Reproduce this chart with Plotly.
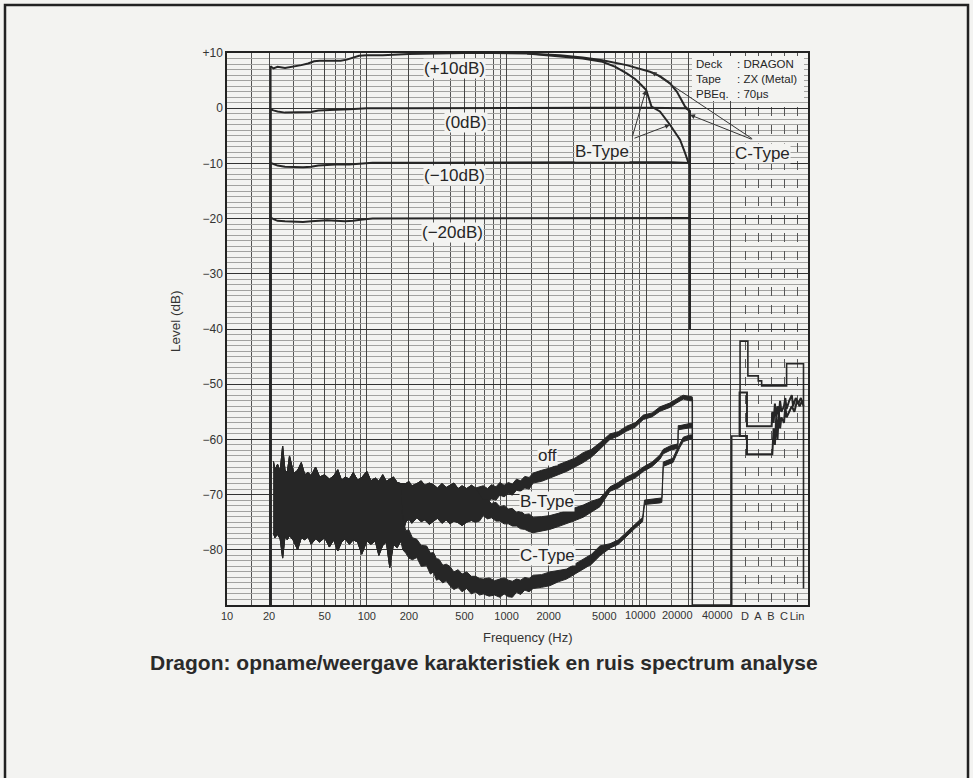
import math
import plotly.graph_objects as go

# ---------------- data ----------------
# record/playback response curves (frequency in Hz, level in dB)
r_p10_f = [20.5, 20.5, 21.5, 23, 26, 30, 34, 38, 42, 46, 55, 65, 72, 80, 88, 100, 130, 200, 300, 500, 800, 1000, 1400]
r_p10_l = [-90, 7.6, 7.2, 7.5, 7.3, 7.5, 7.8, 8.1, 8.5, 8.6, 8.6, 8.6, 8.8, 9.2, 9.5, 9.6, 9.6, 9.8, 9.9, 10.0, 10.0, 10.0, 9.9]
r_p10c_f = [1400, 2400, 3500, 4850, 7230, 10610, 12500, 14750, 16500, 17500, 18900, 20500, 20500]
r_p10c_l = [9.9, 9.6, 9.2, 8.7, 7.8, 6.6, 5.8, 4.5, 3.0, 1.8, 0.3, -0.5, -40]
r_p10b_f = [1400, 2400, 3500, 4850, 6000, 7230, 8300, 9200, 9970, 10880, 12500, 14750, 17400, 18900, 20000, 20500, 20500]
r_p10b_l = [9.9, 9.4, 9.0, 8.4, 7.5, 6.3, 5.3, 4.2, 3.3, 0.3, -0.6, -3.0, -5.7, -8.1, -9.9, -10.2, -40]
r_0_f = [20.5, 20.5, 21.5, 23, 26, 30, 35, 40, 45, 52, 60, 75, 90, 100, 200, 1000, 5000, 10000, 15000, 19000, 20000, 20500, 20500]
r_0_l = [-90, -0.2, -0.4, -0.6, -0.8, -0.8, -0.8, -0.7, -0.4, -0.3, -0.3, -0.2, -0.1, 0.0, 0.0, 0.1, 0.1, 0.1, 0.1, 0.0, -0.3, -1.0, -40]
r_m10_f = [20.5, 20.5, 21.5, 23, 26, 30, 35, 40, 45, 52, 60, 75, 90, 110, 300, 1000, 5000, 15000, 20500, 20500]
r_m10_l = [-90, -9.9, -10.1, -10.4, -10.6, -10.7, -10.7, -10.6, -10.4, -10.3, -10.2, -10.2, -10.0, -9.9, -9.9, -9.8, -9.8, -9.8, -9.9, -40]
r_m20_f = [20.5, 20.5, 21.5, 23, 26, 30, 35, 40, 45, 52, 60, 70, 80, 90, 110, 300, 1000, 5000, 20500, 20500]
r_m20_l = [-90, -19.8, -20.1, -20.4, -20.5, -20.6, -20.6, -20.5, -20.4, -20.3, -20.4, -20.5, -20.4, -20.2, -20.0, -20.0, -20.0, -19.9, -19.9, -40]

# noise spectra: band shared by all three (upper / lower envelope), 21-175 Hz
low_f = [21.5, 22, 23, 24, 25, 26, 27, 28, 30, 32, 34, 36, 38, 40, 43, 46, 50, 54, 58, 62, 66, 70,
         75, 80, 86, 92, 100, 107, 115, 122, 130, 138, 146, 155, 165, 175]
low_hi = [-64.0, -65.5, -64.5, -65.8, -61.2, -65.6, -66.0, -63.0, -66.2, -65.6, -64.2, -66.4, -66.0, -66.6,
          -65.0, -66.8, -66.4, -67.2, -66.6, -65.5, -67.4, -66.8, -67.2, -66.0, -67.4, -66.9, -65.8, -67.5,
          -67.0, -67.6, -66.4, -67.6, -67.2, -66.8, -67.8, -68.0]
low_lo = [-77.0, -77.8, -77.2, -78.0, -81.5, -77.6, -78.2, -77.4, -78.4, -80.0, -77.8, -78.2, -77.6, -79.0,
          -78.0, -78.6, -77.8, -79.5, -78.2, -80.2, -78.6, -78.0, -79.0, -78.2, -78.6, -80.8, -78.4, -79.0,
          -78.4, -81.0, -79.2, -78.6, -83.2, -79.0, -79.6, -78.4]
# band shared by "off" and "B-Type", 190-600 Hz
mid_f = [190, 200, 210, 228, 245, 260, 280, 300, 320, 345, 370, 393, 420, 450, 480, 518, 560, 600]
mid_hi = [-68.0, -67.6, -68.4, -68.0, -67.5, -68.3, -67.9, -68.2, -68.8, -68.0, -68.7, -68.3, -67.9, -68.9,
          -68.4, -68.9, -68.3, -68.8]
mid_lo = [-75.0, -74.4, -75.2, -74.2, -74.9, -74.6, -75.4, -74.8, -74.3, -75.2, -74.6, -75.3, -74.8, -75.1,
          -75.6, -75.0, -74.7, -75.0]
# noise, NR off
off_f = [640, 681, 730, 780, 840, 894, 960, 1030, 1100, 1177, 1260, 1350, 1450, 1549, 1780, 2039, 2340,
         2684, 3080, 3532, 4050, 4649, 5490, 6300, 7230, 8300, 9510, 11000, 12510, 14750, 16470, 17390,
         18360, 20500, 21300]
off_hi = [-68.6, -68.4, -68.9, -68.2, -68.6, -67.8, -68.3, -67.8, -68.1, -67.2, -67.5, -66.7, -66.9, -66.1,
          -65.6, -65.2, -64.6, -64.0, -63.4, -62.4, -61.8, -60.6, -59.0, -58.6, -57.6, -57.0, -55.6, -55.2,
          -54.1, -53.4, -52.6, -52.3, -52.0, -52.3, -52.3]
off_lo = [-72.0, -71.0, -71.4, -70.8, -71.0, -70.1, -70.4, -69.8, -70.1, -69.2, -69.4, -68.8, -69.0, -67.9,
          -67.6, -67.0, -66.4, -65.8, -65.0, -64.2, -63.2, -61.8, -60.0, -59.4, -58.5, -57.8, -56.4, -55.9,
          -54.9, -54.2, -53.4, -53.0, -52.7, -53.0, -53.0]
# noise, B-Type
b_f = [640, 681, 730, 780, 840, 894, 960, 1030, 1100, 1177, 1260, 1350, 1450, 1549, 1780, 2039, 2340,
       2684, 3080, 3532, 4050, 4649, 5490, 6300, 7230, 8300, 9510, 11000, 12510, 13210, 14750, 16800,
       16900, 17390, 20500, 21300]
b_hi = [-70.0, -71.0, -70.9, -71.6, -71.4, -72.2, -72.0, -72.6, -72.5, -73.2, -73.0, -73.6, -73.5, -74.1,
        -74.0, -73.8, -73.4, -72.9, -72.4, -71.9, -71.2, -70.7, -68.6, -67.8, -66.8, -66.1, -65.0, -64.1,
        -62.8, -61.8, -61.2, -60.8, -57.5, -57.5, -57.1, -57.1]
b_lo = [-74.8, -73.8, -74.4, -74.2, -74.8, -74.8, -75.3, -75.3, -75.7, -75.7, -76.2, -76.3, -76.7, -76.9,
        -76.6, -76.3, -75.8, -75.3, -74.7, -74.1, -73.1, -72.2, -69.4, -68.8, -67.7, -67.0, -65.8, -64.9,
        -63.6, -62.6, -62.0, -61.6, -58.3, -58.2, -57.9, -57.9]
# noise, C-Type
c_f = [181, 190, 200, 212, 228, 245, 268, 285, 300, 315, 328, 350, 370, 393, 420, 450, 480, 518, 560,
       600, 640, 681, 750, 820, 894, 960, 1030, 1100, 1177, 1260, 1350, 1450, 1549, 1780, 2039, 2340,
       2684, 3080, 3532, 4050, 4649, 5490, 6300, 7230, 8300, 9400, 9700, 12510, 12900, 13210, 14750,
       15500, 16470, 17390, 18360, 20500, 21300]
c_hi = [-74.5, -76.5, -76.4, -77.8, -78.1, -79.2, -79.3, -80.6, -80.5, -81.6, -81.7, -82.8, -82.6, -83.0,
        -84.0, -83.6, -84.4, -84.0, -84.8, -84.8, -85.2, -85.3, -85.1, -85.6, -85.3, -85.1, -85.5, -85.7,
        -85.3, -85.5, -85.0, -85.2, -84.6, -84.5, -84.0, -83.8, -83.5, -82.6, -81.7, -80.8, -79.3, -78.9,
        -78.2, -76.8, -75.3, -74.1, -71.0, -70.7, -70.6, -64.1, -63.6, -63.4, -61.9, -60.6, -59.6, -59.2,
        -59.2]
c_lo = [-80.0, -80.6, -81.5, -81.8, -81.4, -83.0, -82.9, -84.4, -84.0, -85.5, -85.3, -86.0, -85.6, -86.5,
        -87.2, -86.8, -87.6, -87.0, -88.0, -87.6, -88.2, -88.0, -88.4, -88.2, -88.6, -88.0, -88.5, -88.6,
        -87.7, -88.1, -87.3, -87.6, -87.0, -86.8, -86.5, -85.8, -85.3, -84.5, -83.5, -82.6, -81.1, -79.7,
        -79.0, -77.6, -76.1, -74.9, -71.8, -71.5, -71.4, -64.9, -64.4, -64.2, -62.7, -61.4, -60.4, -60.0,
        -60.0]
# analyser sweep tail after 20 kHz
tail_f = [21300, 21300, 40800, 40800, 46000]
tail_l = [-52.6, -90, -90, -59.4, -59.4]

# weighted noise section (D, A, B, C, Lin) - positions in category units
wt_labels = ["D", "A", "B", "C", "Lin"]
wt_pos = [0, 1, 2, 3, 4]
wt_off_u = [-0.5, -0.38, -0.38, 0.22, 0.22, 1.02, 1.02, 1.28, 1.28, 3.2, 3.2, 4.5, 4.5]
wt_off_l = [-59.4, -59.4, -42.2, -42.2, -48.5, -48.5, -49.4, -49.4, -50.3, -50.3, -46.3, -46.3, -87]
wt_b_u = [-0.5, -0.45, -0.45, 0.15, 0.15, 2.05, 2.1, 2.2, 2.3, 2.4, 2.5, 2.6, 2.7, 2.8, 3.0, 3.1, 3.2,
          3.4, 3.6, 3.7, 3.9, 4.1, 4.3, 4.45]
wt_b_l = [-59.4, -59.4, -51.5, -51.5, -57.6, -57.6, -55.0, -57.0, -53.5, -56.0, -54.0, -55.5, -53.0, -55.0,
          -54.0, -52.5, -54.5, -53.0, -52.0, -54.0, -52.5, -53.5, -52.5, -53.5]
wt_c_u = [-0.5, 0.15, 0.15, 2.1, 2.2, 2.3, 2.4, 2.5, 2.6, 2.7, 2.8, 3.0, 3.1, 3.2, 3.4, 3.6, 3.8, 4.0,
          4.2, 4.4, 4.5]
wt_c_l = [-59.4, -59.4, -62.7, -62.7, -58.0, -61.0, -56.0, -60.0, -55.0, -58.0, -56.0, -57.0, -54.0, -56.0,
          -55.0, -54.0, -55.0, -53.0, -54.0, -53.0, -54.0]

# axis ticks
x_tick_vals = [10, 20, 50, 100, 200, 500, 1000, 2000, 5000, 10000, 20000, 40000]
x_tick_text = ["10", "20", "50", "100", "200", "500", "1000", "2000", "5000", "10000", "20000", "40000"]
y_tick_vals = [10, 0, -10, -20, -30, -40, -50, -60, -70, -80]
y_tick_text = ["+10", "0", "\u221210", "\u221220", "\u221230", "\u221240", "\u221250", "\u221260", "\u221270", "\u221280"]
# crowded labels printed left of their grid lines (pixel centres in the reference)
shifted_labels = {"10000": 640, "20000": 677, "40000": 717}

# ---------------- figure ----------------
INK = "#262626"
BG = "#f3f3f1"
FONT = "Liberation Sans, Arial, Helvetica, sans-serif"

fig = go.Figure()

def band(f, hi, lo):
    fig.add_trace(go.Scatter(x=f + f[::-1], y=hi + lo[::-1], mode="lines", fill="toself",
                             fillcolor=INK, line=dict(color=INK, width=1), hoverinfo="skip",
                             showlegend=False, xaxis="x", yaxis="y"))

band(low_f + mid_f + off_f, low_hi + mid_hi + off_hi, low_lo + mid_lo + off_lo)
band(low_f + mid_f + b_f, low_hi + mid_hi + b_hi, low_lo + mid_lo + b_lo)
band(low_f + c_f, low_hi + c_hi, low_lo + c_lo)
fig.add_trace(go.Scatter(x=tail_f, y=tail_l, mode="lines", line=dict(color=INK, width=1.5),
                         showlegend=False, xaxis="x", yaxis="y"))

for f, l in [(r_p10_f, r_p10_l), (r_p10c_f, r_p10c_l), (r_p10b_f, r_p10b_l),
             (r_0_f, r_0_l), (r_m10_f, r_m10_l), (r_m20_f, r_m20_l)]:
    fig.add_trace(go.Scatter(x=f, y=l, mode="lines", line=dict(color=INK, width=2),
                             showlegend=False, xaxis="x", yaxis="y"))

for u, l, w in [(wt_off_u, wt_off_l, 1.6), (wt_b_u, wt_b_l, 2.0), (wt_c_u, wt_c_l, 2.0)]:
    fig.add_trace(go.Scatter(x=u, y=l, mode="lines", line=dict(color=INK, width=w),
                             showlegend=False, xaxis="x2", yaxis="y2"))

minor_x = []
for dec in [10, 100, 1000, 10000]:
    for m in [1, 1.5, 2, 3, 4, 5, 6, 7, 8, 9]:
        v = m * dec
        if v <= 40000 and v not in x_tick_vals:
            minor_x.append(v)

x_tick_show = ["" if t in shifted_labels else t for t in x_tick_text]

LX = 0.8804
yax = dict(range=[-90, 10], tickmode="array", tickvals=y_tick_vals, ticktext=y_tick_text,
           showgrid=True, gridcolor="#333", gridwidth=1.2, zeroline=False, ticks="",
           minor=dict(dtick=1, showgrid=True, gridcolor="#a2a2a0", gridwidth=0.6),
           showline=True, linecolor="#222", linewidth=1.5)

fig.update_layout(
    width=973, height=778, autosize=False,
    margin=dict(l=227, r=165, t=53, b=173),
    paper_bgcolor=BG, plot_bgcolor=BG,
    font=dict(family=FONT, color="#333"),
    showlegend=False,
    xaxis=dict(type="log", range=[1, 4.659], domain=[0, LX], anchor="y",
               tickmode="array", tickvals=x_tick_vals, ticktext=x_tick_show,
               showgrid=True, gridcolor="#444", gridwidth=1, zeroline=False, ticks="",
               minor=dict(tickmode="array", tickvals=minor_x, showgrid=True, gridcolor="#555", gridwidth=0.8),
               showline=True, mirror=True, linecolor="#222", linewidth=1.5, tickangle=0,
               tickfont=dict(family=FONT, size=11, color="#333")),
    yaxis=dict(anchor="x", domain=[0, 1], tickfont=dict(family=FONT, size=12, color="#333"), **yax),
    xaxis2=dict(range=[-0.5, 4.846], domain=[LX, 1], anchor="y2",
                tickmode="array", tickvals=wt_pos, ticktext=wt_labels, tickangle=0,
                showgrid=True, griddash="dash", gridcolor="#555", gridwidth=0.8, zeroline=False, ticks="",
                showline=True, mirror=True, linecolor="#222", linewidth=1.5,
                tickfont=dict(family=FONT, size=11, color="#333")),
    yaxis2=dict(anchor="x2", domain=[0, 1], side="right", showticklabels=False, **yax),
)

def px2paper(px, py):
    return (px - 227) / 581, (605 - py) / 552

# crowded frequency labels
for t, pxc in shifted_labels.items():
    x, y = px2paper(pxc, 615)
    fig.add_annotation(x=x, y=y, xref="paper", yref="paper", text=t, showarrow=False,
                       xanchor="center", yanchor="middle", font=dict(family=FONT, size=11, color="#333"))

# blank panel behind the tape info
bx0, by1 = px2paper(692, 56)
bx1, by0 = px2paper(804, 101)
fig.add_shape(type="rect", xref="paper", yref="paper", x0=bx0, y0=by0, x1=bx1, y1=by1,
              fillcolor=BG, line=dict(width=0), layer="above")

def label(text, px, py, size=17, bg=True, xanchor="center", align="center"):
    x, y = px2paper(px, py)
    fig.add_annotation(x=x, y=y, xref="paper", yref="paper", text=text, showarrow=False,
                       xanchor=xanchor, yanchor="middle", align=align,
                       font=dict(family=FONT, size=size, color="#262626"),
                       bgcolor=BG if bg else None, borderpad=0)

label("(+10dB)", 454, 68)
label("(0dB)", 466, 122)
label("(\u221210dB)", 454, 175)
label("(\u221220dB)", 452, 232)
label("B-Type", 602, 151)
label("C-Type", 762, 153)
label("off", 547, 455)
label("B-Type", 547, 501)
label("C-Type", 547, 555)
label("Deck<br>Tape<br>PBEq.", 695, 79, size=11.5, bg=False, xanchor="left", align="left")
label(": DRAGON<br>: ZX (Metal)<br>: 70\u03bcs", 736, 79, size=11.5, bg=False, xanchor="left", align="left")

# arrows (head on the curves, tail near labels)
for hx, hy, ax, ay in [(9930, 3.3, -14, 48), (14750, -3.0, -37, 14),
                       (10920, 6.6, 102, 68), (20500, -1.2, 63, 25)]:
    fig.add_annotation(x=math.log10(hx), y=hy, xref="x", yref="y", ax=ax, ay=ay,
                       showarrow=True, arrowhead=2, arrowsize=1, arrowwidth=1, arrowcolor="#333", text="")

# axis titles and caption
x, y = px2paper(528, 647)
fig.add_annotation(x=x, y=y, xref="paper", yref="paper", text="Frequency (Hz)", showarrow=False,
                   xanchor="center", font=dict(family=FONT, size=13, color="#333"))
x, y = px2paper(175, 321)
fig.add_annotation(x=x, y=y, xref="paper", yref="paper", text="Level (dB)", showarrow=False,
                   xanchor="center", yanchor="middle",
                   textangle=-90, font=dict(family=FONT, size=13.5, color="#333"))
x, y = px2paper(484, 676)
fig.add_annotation(x=x, y=y, xref="paper", yref="paper",
                   text="<b>Dragon: opname/weergave karakteristiek en ruis spectrum analyse</b>",
                   showarrow=False, xanchor="center", font=dict(family=FONT, size=21, color="#2a2a2a"))

# page frame (top, left, right)
xl, yt = px2paper(5, 5)
xr, yb = px2paper(968, 778)
fig.add_shape(type="path", xref="paper", yref="paper",
              path=f"M {xl},{yb} L {xl},{yt} L {xr},{yt} L {xr},{yb}",
              line=dict(color="#222", width=2.5))

fig.write_html("out.html", config={"displayModeBar": False},
               post_script="document.body.style.margin='0';document.body.style.background='%s';" % BG)
